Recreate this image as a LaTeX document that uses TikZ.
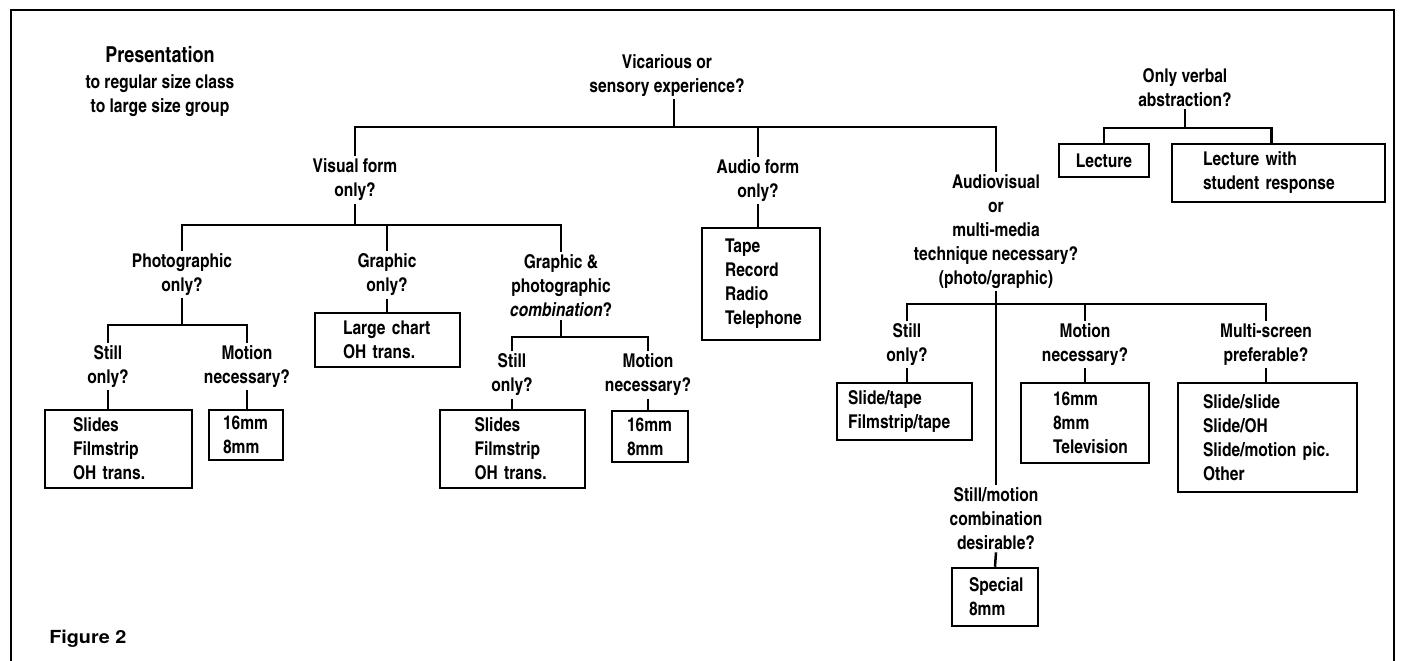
\documentclass[tikz,border=0pt]{standalone}
\usepackage{fontspec}
\setmainfont{texgyreheroscn}[Extension=.otf,UprightFont=*-regular,BoldFont=*-bold,ItalicFont=*-italic,BoldItalicFont=*-bolditalic]
\newfontfamily\figfont{texgyreheros}[Extension=.otf,UprightFont=*-regular,BoldFont=*-bold,FakeStretch=1.1]
\usetikzlibrary{positioning}

\begin{document}
\begin{tikzpicture}[x=1pt,y=-1pt,line width=2.5pt,
        q/.style={align=center,inner sep=1.5pt,font=\fontsize{19}{24}\selectfont\bfseries},
        leaf/.style={draw,align=left,inner xsep=1pt,inner ysep=1pt,font=\fontsize{19}{24}\selectfont\bfseries}]
  \useasboundingbox (0,0) rectangle (1401,661);
  \draw[line width=2.8pt] (11,661) -- (11,10) -- (1394,10) -- (1394,661);

  \node[q,font=\fontsize{22}{26}\selectfont\bfseries] (pres) at (160,55) {Presentation};
  \node[q] (group) at (160,96) {to regular size class\\to large size group};
  \node[q] (vicar) at (667,75.5) {Vicarious or\\sensory experience?};
  \node[q] (visual) at (355,180) {Visual form\\only?};
  \node[q] (audio) at (758,180.5) {Audio form\\only?};
  \node[q] (av) at (996,231.5) {Audiovisual\\or\\multi-media\\technique necessary?\\(photo/graphic)};
  \node[q] (verbal) at (1185,87.5) {Only verbal\\abstraction?};
  \node[q] (photo) at (182,274.5) {Photographic\\only?};
  \node[q] (graphic) at (387,275) {Graphic\\only?};
  \node[q] (combo) at (561,286) {Graphic \&\\photographic\\\textit{combination}?};
  \node[q] (stillA) at (108,366.5) {Still\\only?};
  \node[q] (motionA) at (247,366.5) {Motion\\necessary?};
  \node[q] (stillB) at (512,375) {Still\\only?};
  \node[q] (motionB) at (648,375) {Motion\\necessary?};
  \node[q] (stillC) at (907,344.5) {Still\\only?};
  \node[q] (motionC) at (1085,344.5) {Motion\\necessary?};
  \node[q] (screens) at (1266,344.5) {Multi-screen\\preferable?};
  \node[q] (mixed) at (996,518.5) {Still/motion\\combination\\desirable?};

  \node[leaf,minimum width=147pt,minimum height=78pt,text width=91pt] (slidesA) at (118.5,449) {Slides\\Filmstrip\\OH trans.};
  \node[leaf,minimum width=74pt,minimum height=50pt,text width=46pt] (filmA) at (246,435) {16mm\\8mm};
  \node[leaf,minimum width=145pt,minimum height=54pt,text width=89pt] (chart) at (387.5,340) {Large chart\\OH trans.};
  \node[leaf,minimum width=145pt,minimum height=78pt,text width=76pt] (slidesB) at (512.5,449) {Slides\\Filmstrip\\OH~trans.};
  \node[leaf,minimum width=76pt,minimum height=51pt,text width=46pt] (filmB) at (650,436.5) {16mm\\8mm};
  \node[leaf,minimum width=118pt,minimum height=112pt,text width=72pt] (tape) at (761,284) {Tape\\Record\\Radio\\Telephone};
  \node[leaf,minimum width=135pt,minimum height=57pt,text width=113pt] (slidetape) at (904.5,411.5) {Slide/tape\\Filmstrip/tape};
  \node[leaf,minimum width=128pt,minimum height=80pt,text width=64pt] (filmC) at (1085,423) {16mm\\8mm\\Television};
  \node[leaf,minimum width=179pt,minimum height=109pt,text width=129pt] (multi) at (1267.5,437.5) {Slide/slide\\Slide/OH\\Slide/motion~pic.\\Other};
  \node[leaf,minimum width=86pt,minimum height=58pt,text width=52pt] (special) at (995,597) {Special\\8mm};
  \node[leaf,align=center,minimum width=90pt,minimum height=33pt] (lecture) at (1104,160.5) {Lecture};
  \node[leaf,minimum width=213pt,minimum height=58pt,text width=151pt] (response) at (1278.5,173) {Lecture with\\student response};

  \node[anchor=west,inner sep=0pt,font=\figfont\fontsize{18}{21}\selectfont\bfseries] (fig) at (48,639) {Figure 2};

  \coordinate (topbus) at (674,127);
  \coordinate (visbus) at (355,225);
  \coordinate (photobus) at (182,325);
  \coordinate (combobus) at (561,337);
  \coordinate (avbus) at (996,304);
  \coordinate (verbalbus) at (1185,128);

  \draw (vicar.south -| topbus) -- (topbus);
  \draw (visual.north) |- (topbus) -| (av.north);
  \draw (audio.north) -- (audio.north |- topbus);
  \draw (audio.south) -- (audio.south |- tape.north);

  \draw (visual.south) -- (visbus);
  \draw (photo.north) |- (visbus) -| (combo.north);
  \draw (graphic.north) -- (graphic.north |- visbus);
  \draw (graphic.south) -- (graphic.south |- chart.north);

  \draw (photo.south) -- (photobus);
  \draw (stillA.north) |- (photobus) -| (motionA.north);
  \draw (stillA.south) -- (stillA.south |- slidesA.north);
  \draw (motionA.south) -- (motionA.south |- filmA.north);

  \draw (combo.south) -- (combobus);
  \draw (stillB.north) |- (combobus) -| (motionB.north);
  \draw (stillB.south) -- (stillB.south |- slidesB.north);
  \draw (motionB.south) -- (motionB.south |- filmB.north);

  \draw (stillC.north) |- (avbus) -| (screens.north);
  \draw (motionC.north) -- (motionC.north |- avbus);
  \draw (av.south) -- (mixed.north);
  \draw (stillC.south) -- (stillC.south |- slidetape.north);
  \draw (motionC.south) -- (motionC.south |- filmC.north);
  \draw (screens.south) -- (screens.south |- multi.north);
  \draw (mixed.south) -- (special.north);

  \draw (verbal.south) -- (verbalbus);
  \draw (lecture.north) |- (verbalbus) -| ([xshift=-7pt]response.north);
\end{tikzpicture}
\end{document}
